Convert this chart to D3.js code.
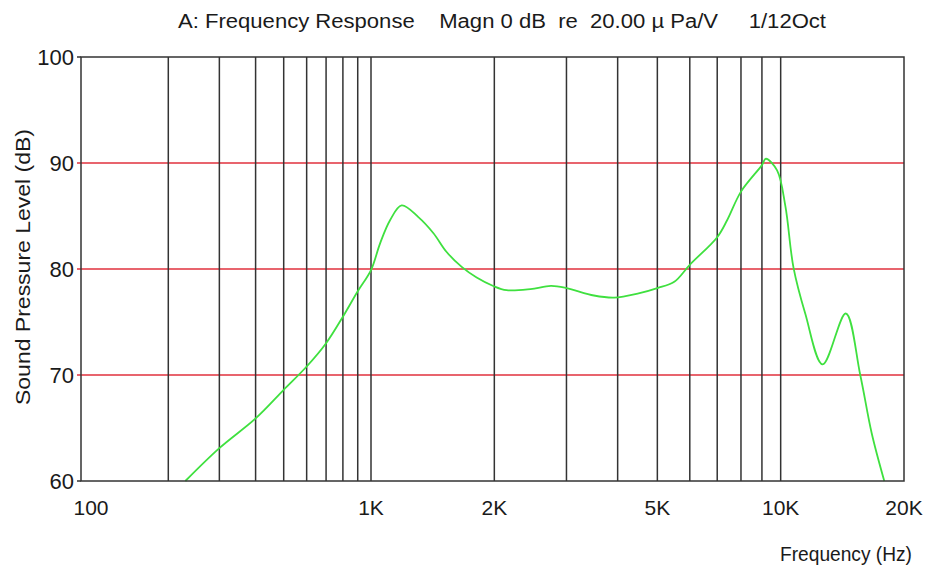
<!DOCTYPE html>
<html>
<head>
<meta charset="utf-8">
<script src="https://cdn.jsdelivr.net/npm/d3@7"></script>
<style>
  body { margin: 0; background: #fff; }
  text { font-family: "Liberation Sans", Arial, sans-serif; fill: #1a1a1a; }
</style>
</head>
<body>
<div id="chart"></div>
<script>
// chart data
var freqs = [229, 300, 400, 500, 600, 700, 800, 900, 1000, 1052, 1113, 1188, 1305, 1419, 1530, 1665, 1811, 1988, 2143,
  2450, 2750, 3000, 3500, 3920, 4500, 5000, 5500, 6000, 7000, 7400, 8000, 9000, 9200, 9800, 10270, 10750,
  11480, 12660, 14420, 15640, 16680, 17900];
var levels = [60, 63.1, 65.9, 68.6, 70.8, 73.0, 75.5, 77.9, 79.9, 82.4, 84.6, 86.0, 84.9, 83.4, 81.6, 80.2, 79.2, 78.4, 78.0,
  78.1, 78.4, 78.2, 77.5, 77.3, 77.7, 78.2, 78.8, 80.4, 83.0, 84.6, 87.3, 89.8, 90.4, 89.3, 85.9, 80.1,
  75.8, 71.0, 75.8, 70.0, 64.5, 60];
var gridFreqs = [200, 300, 400, 500, 600, 700, 800, 900, 1000, 2000, 3000, 4000, 5000, 6000, 7000, 8000, 9000, 10000];
var xTicks = [100, 1000, 2000, 5000, 10000, 20000];
var xTickLabels = ["100", "1K", "2K", "5K", "10K", "20K"];
var yTicks = [60, 70, 80, 90, 100];
var redLevels = [70, 80, 90];

var svgWidth = 934;
var svgHeight = 569;

var svg = d3.select("#chart")
  .append("svg")
  .attr("width", svgWidth)
  .attr("height", svgHeight);

// the original axis is squeezed below 1K, so a two-piece log scale
var x = d3.scaleLog()
  .domain([100, 1000, 20000])
  .range([81, 371, 904]);

var y = d3.scaleLinear()
  .domain([60, 100])
  .range([481, 57]);

// red level lines
svg.selectAll("line.red")
  .data(redLevels)
  .enter()
  .append("line")
  .attr("class", "red")
  .attr("x1", x(100) - 4)
  .attr("x2", x(20000))
  .attr("y1", d => y(d))
  .attr("y2", d => y(d))
  .attr("stroke", "#e0303c")
  .attr("stroke-width", 1.6);

// vertical grid
svg.selectAll("line.vgrid")
  .data(gridFreqs)
  .enter()
  .append("line")
  .attr("class", "vgrid")
  .attr("x1", d => x(d))
  .attr("x2", d => x(d))
  .attr("y1", y(100))
  .attr("y2", y(60))
  .attr("stroke", "#333")
  .attr("stroke-width", 1.5);

// response curve
var line = d3.line()
  .x((d, i) => x(freqs[i]))
  .y(d => y(d))
  .curve(d3.curveCatmullRom.alpha(0.5));

svg.append("path")
  .datum(levels)
  .attr("d", line)
  .attr("fill", "none")
  .attr("stroke", "#3fe03f")
  .attr("stroke-width", 1.8);

// frame
svg.append("rect")
  .attr("x", x(100))
  .attr("y", y(100))
  .attr("width", x(20000) - x(100))
  .attr("height", y(60) - y(100))
  .attr("fill", "none")
  .attr("stroke", "#333")
  .attr("stroke-width", 1.5);

svg.selectAll("line.ytick")
  .data([60, 100])
  .enter()
  .append("line")
  .attr("x1", x(100) - 4)
  .attr("x2", x(100))
  .attr("y1", d => y(d))
  .attr("y2", d => y(d))
  .attr("stroke", "#333")
  .attr("stroke-width", 1.5);

// y labels
svg.selectAll("text.ylab")
  .data(yTicks)
  .enter()
  .append("text")
  .attr("x", x(100) - 7)
  .attr("y", d => y(d) + 8)
  .attr("text-anchor", "end")
  .style("font-size", "22px")
  .text(d => d);

// x labels
svg.selectAll("text.xlab")
  .data(xTicks)
  .enter()
  .append("text")
  .attr("x", (d, i) => x(d) + (i === 0 ? 10 : 0))
  .attr("y", 515)
  .attr("text-anchor", "middle")
  .style("font-size", "21px")
  .text((d, i) => xTickLabels[i]);

// title
svg.append("text")
  .attr("x", 178)
  .attr("y", 28)
  .attr("textLength", 648)
  .attr("lengthAdjust", "spacingAndGlyphs")
  .style("font-size", "20px")
  .style("white-space", "pre")
  .attr("xml:space", "preserve")
  .text("A: Frequency Response    Magn 0 dB  re  20.00 \u00b5 Pa/V     1/12Oct");

// axis titles
svg.append("text")
  .attr("x", 780)
  .attr("y", 561)
  .attr("textLength", 132)
  .attr("lengthAdjust", "spacingAndGlyphs")
  .style("font-size", "20px")
  .text("Frequency (Hz)");

svg.append("text")
  .attr("transform", "translate(30, 267) rotate(-90)")
  .attr("text-anchor", "middle")
  .attr("textLength", 276)
  .attr("lengthAdjust", "spacingAndGlyphs")
  .style("font-size", "21px")
  .text("Sound Pressure Level (dB)");
</script>
</body>
</html>
